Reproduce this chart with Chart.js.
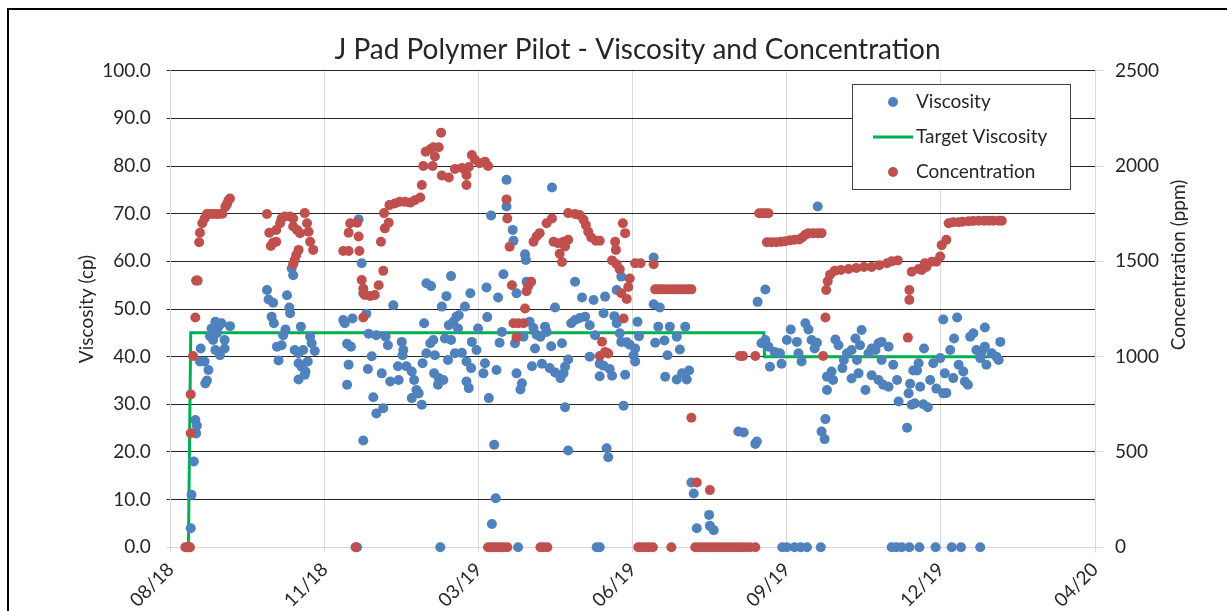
<!DOCTYPE html>
<html><head><meta charset="utf-8">
<script src="https://cdn.jsdelivr.net/npm/chart.js@4"></script>
<style>
html,body{margin:0;padding:0;background:#fff;overflow:hidden;width:1227px;height:611px}
#frame{position:absolute;left:7px;top:8px;border-left:2px solid #000;border-top:2px solid #000;width:1300px;height:700px}
#c{position:absolute;left:0;top:0}
</style></head><body>
<div id="frame"><canvas id="c" width="1257" height="601"></canvas></div>
<script>
// Day offsets are counted from 2018-08-13 (first axis tick); tick every 100 days.
const xTickLabels = ['08/18','11/18','03/19','06/19','09/19','12/19','04/20'];
const xTickStepDays = 100;

// [day offset, viscosity cp]
const viscosityPoints = [
[13,4.0],[13.5,11.0],[15,18.0],[16,26.7],[17,25.5],[16.5,23.9],[19.5,41.7],[19,39.0],[22,39.0],[24.5,37.2],[23.5,35.0],[22.5,34.4],[29,47.3],[26.5,45.9],[25.5,44.3],[27.5,43.5],[31,46.3],[33,47.0],[38.5,46.4],[35,43.5],[35,41.7],[32,40.3],[29,41.4],[30,44.9],
[62.5,54.0],[63.5,52.0],[65.5,48.4],[66.5,51.3],[67,47.0],[69,42.1],[70,39.2],[72,42.4],[73,44.5],[74.5,45.7],[75.5,52.9],[77,50.3],[77.5,49.1],[78.5,58.5],[79.5,57.1],[80.5,41.4],[83,40.7],[83,38.6],[83,35.2],[84.5,46.3],[85,37.9],[86,41.4],[87,36.2],[87.5,36.9],[89,39.0],[90.5,44.2],[91.5,42.8],[93.5,41.2],
[112,47.7],[113,47.0],[114.5,42.7],[114.5,34.1],[115.5,38.3],[117,42.1],[118,48.0],[121,0],[122,68.8],[124,59.6],[125,53.3],[125,22.4],[127,49.0],[128,37.4],[128.5,44.8],[130.5,40.1],[131.5,31.5],[133.5,44.5],[133.5,28.1],[137,36.5],[138,29.2],[139.5,44.2],[141,42.4],[142.5,34.8],[144.5,50.8],[147.5,38.0],[148,35.1],[150,43.1],[150.5,40.3],[151,41.4],[153,38.0],[156.5,36.9],[156.5,31.3],[158,35.1],[159.5,33.0],[161,32.3],[163,29.9],[163.5,38.6],[164.5,47.0],[166,40.7],[166,55.4],[168.5,42.8],[169,54.8],[170.5,43.5],[171,36.5],[171.5,40.3],[173.5,34.1],[174,35.5],[175,0],[176,50.5],[177,35.1],[178,43.8],[179,52.7],[180,39.3],[180.5,46.6],[182,56.9],[182,43.5],[183.5,47.3],[184.5,40.7],[185.5,48.4],[186.5,45.9],[187,48.7],[189,40.8],[191,50.5],[192,39.0],[192,34.8],[193.5,33.4],[194.5,53.3],[195,37.6],[195.5,43.1],
[198.5,41.4],[199.5,45.9],[203,36.5],[204,38.6],[205,54.5],[205.5,48.3],[206.5,31.3],[208,69.6],[208.5,4.9],[210,21.5],[211,10.3],[211.5,37.2],[212.5,52.4],[213.5,42.9],[215,45.2],[216,57.3],[218,77.1],[218,71.5],[222,66.6],[222.5,64.3],[223.5,42.8],[224.5,53.3],[224.5,36.5],[225.5,0],[227,33.1],[228,34.4],[229,44.2],[230,61.5],[230.5,60.3],[231,55.7],[233,47.3],[234.5,38.0],[235.5,46.0],[236.5,41.7],[237.5,44.6],[240,44.2],[241,38.5],[243,46.3],[244,45.2],[246,37.6],[247,42.2],[247.5,75.5],[249.5,50.3],[249.5,36.7],[253,35.5],[254,42.8],[255,36.5],[256,37.9],[256,29.4],[258,39.4],[258,20.3],[260,47.0],[262.5,47.7],[262.5,55.7],[265.5,48.1],[267,52.4],[269,48.4],[272,46.6],[272,40.0],[274.5,51.9],[275.5,44.5],[276.5,0],[278.5,0],[278.5,38.5],[278.5,35.9],[281,49.1],[281,38.1],[282,52.6],[283,20.8],[284,18.9],[285,37.4],[286.5,36.0],[288,48.5],[289.5,54.0],[291.5,44.9],[292.5,56.8],[292.5,43.1],[294,29.7],[295,36.2],
[289.5,47.0],[296,43.0],[298,42.5],[300.5,40.3],[301.5,41.7],[301.5,39.0],[303,47.3],[304,44.3],[313.5,60.8],[313.5,51.0],[314.5,42.9],[316.5,46.3],[317.5,50.3],[320.5,43.4],[321,35.8],[322.5,40.3],[324,46.3],[328.5,44.2],[328.5,35.2],[330.5,41.5],[332,36.5],[334,46.3],[335,35.2],[336.5,37.1],[338,13.6],[339.5,11.3],[341.5,4.0],[349.5,6.8],[350,4.5],[352.5,3.6],[368.5,24.3],[372,24.1],[379.5,21.7],[380.5,22.2],[381,51.5],[383.5,42.8],[386,54.1],[386,43.5],[388,42.1],[389,37.9],
[392,41.0],[395.5,40.7],[396.5,38.5],[397,0],[400,43.5],[400,0],[402.5,45.7],[405,0],[406.5,43.1],[407.5,40.7],[409,0],[409.5,39.0],[412,47.0],[413,0],[414,45.7],[416,43.5],[418,41.7],[419.5,42.9],[420,71.5],[422,0],[422.5,24.3],[424.5,22.7],[425,26.9],[426,33.0],[426,35.8],[429,36.9],[430,35.1],[431.5,43.6],[433.5,42.4],[436,37.6],[437,39.3],[439,40.7],[442,41.4],[442,35.4],[444.5,43.8],[445.5,39.3],[446.5,36.5],[447.5,42.4],[448.5,45.6],[451,33.0],[453,40.7],[455,41.7],[455,36.1],[457.5,41.4],[459.5,42.8],[459.5,35.1],[461.5,39.3],[461.5,43.1],[462.5,34.1],[466,42.1],[466,33.7],[468,0],[469,38.3],[471,0],[471.5,35.1],[472.5,30.6],[474.5,0],[478,25.1],[479,32.3],[479.5,0],[480,34.3],[481,29.9],[482,37.1],[484.5,37.1],[485.5,38.6],[486,0],[486.5,33.7],[488.5,30.0],[489,41.7],
[483,30.2],[491.5,29.4],[493,35.1],[495,38.6],[496.5,0],[497,33.3],[499.5,39.7],[501.5,47.8],[501.5,32.3],[502.5,36.5],[503.5,32.4],[506,41.4],[507,0],[508,35.5],[508.5,43.8],[510.5,48.2],[511.5,38.3],[513,0],[514.5,36.9],[515.5,34.8],[517.5,34.1],[519,44.2],[521,44.9],[523,41.4],[525.5,39.7],[525.5,0],[526.5,41.1],[528.5,46.1],[528.5,42.1],[529.5,38.3],[533,40.7],[536,40.0],[537.5,39.3],[538.5,43.1]
];

// [day offset, target viscosity cp]
const targetPoints = [[11.5,0],[13,45],[385,45],[385.5,40],[538,40]];

// [day offset, concentration ppm]
const concentrationPoints = [
[9.5,0],[10.5,0],[11.5,0],[12.5,0],[13,598],[13,802],[14.5,1003],[16,1205],[16.5,1399],[17.5,1399],[18.5,1600],[19,1650],[20.5,1700],[22,1725],[23.5,1748],[25.5,1748],[27.5,1748],[29.5,1748],[31.5,1748],[33.5,1750],[35.5,1787],[36.5,1800],[37.5,1820],[38.5,1830],
[62.5,1748],[64,1650],[65,1580],[66.5,1598],[68.5,1603],[68.5,1664],[71,1700],[72,1725],[74,1735],[77.5,1735],[79.5,1725],[79.5,1683],[79.5,1485],[80.5,1507],[81.5,1533],[82,1665],[83,1560],[84,1648],[87,1753],[88.5,1700],[89.5,1655],[90.5,1603],[92.5,1560],
[112,1554],[115.5,1554],[115.5,1650],[116.5,1700],[120,0],[121,1703],[122,1630],[122.5,1554],[124,1402],[125,1357],[125,1205],[126,1323],[129.5,1318],[132.5,1323],[135,1375],[136.5,1603],[138,1450],[138.5,1753],[139,1673],[141.5,1703],[142,1795],[145.5,1803],[148.5,1812],[152,1812],[155.5,1808],[158.5,1820],[162,1835],[163,1900],[164,2000],[165.5,2075],[168.5,2088],[170,2000],[170.5,2098],[171.5,2050],[174,2098],[175.5,2175],[176,1950],[180.5,1940],[184.5,1985],[189,1990],[192,1900],[192,1953],[193.5,1995],[195.5,2058],
[197.5,2033],[200.5,2015],[204,2023],[206,2000],[206,0],[208,0],[210,0],[212,0],[214,0],[216,0],[218.5,0],[218,1825],[218.5,1725],[220,1577],[221.5,1375],[222.5,1175],[224.5,1101],[225.5,1175],[229,1175],[230,1253],[231,1343],[232,1368],[234,1393],[235.5,1603],[237.5,1630],[239.5,1648],[240,0],[242,0],[244.5,0],[244,1700],[247.5,1725],[248.5,1603],[251.5,1595],[252.5,1540],[254,1497],[255,1603],[256,1578],[258,1613],[258,1753],[262.5,1748],[265.5,1743],[268,1718],[269.5,1690],[271,1655],[273,1625],[276,1608],[278.5,1608],[278.5,1003],[280,1078],[282,1025],[284,1017],[286.5,1505],[288.5,1603],[289,1560],[289.5,1485],[291.5,1458],[292.5,1333],[293.5,1700],[294,1200],[295,1648],
[296,1303],[297,1365],[298,1410],[301.5,1490],[303.5,0],[305,1490],[305.5,0],[308,0],[310.5,0],[313,0],[313.5,1485],[314.5,1353],[316.5,1353],[318.5,1353],[321,1353],[323.5,1353],[325,0],[326,1353],[328.5,1353],[331,1353],[333.5,1353],[336,1353],[338,1353],[338,680],[340.5,0],[341.5,340],[343,0],[345.5,0],[348,0],[350,300],[350.5,0],[353,0],[355.5,0],[358,0],[360.5,0],[363,0],[365.5,0],[368,0],[369.5,1003],[370.5,0],[371.5,1003],[373,0],[376,0],[379.5,1003],[379.5,0],[382,1752],[384,1752],[386,1752],[388,1752],
[387,1600],[390,1600],[393,1600],[396,1603],[399,1605],[402,1610],[405,1613],[408,1615],[410,1625],[412,1640],[414,1648],[417,1648],[420,1648],[422.5,1648],[423.5,1003],[425,1205],[425.5,1350],[426.5,1395],[428,1430],[431,1450],[435,1455],[440,1460],[445,1465],[450,1470],[455,1470],[460,1480],[465,1490],[468,1500],[472,1505],[478.5,1100],[479.5,1350],[479.5,1298],[481,1445],[485.5,1460],[487.5,1455],[489.5,1490],[490.5,1470],[494,1498],[497,1498],[499.5,1525],[500.5,1585],[503.5,1613],[505,1700],[508,1705],[511.5,1705],[514,1708],[518,1710],[521,1712],[524.5,1713],[528,1713],[531,1713],[534,1713],[537.5,1713],[539.5,1713]
];

const yLeftTickStep = 10;
const yRightTickStep = 500;

const toXY = arr => arr.map(p => ({x: p[0], y: p[1]}));
const TXT = '#262626';
Chart.defaults.font.family = 'Lato';
Chart.defaults.color = TXT;

const overlay = {
  id: 'overlay',
  afterDraw(chart) {
    const ctx = chart.ctx;
    const ds = chart.data.datasets;
    ctx.save();
    // legend box
    ctx.fillStyle = '#fff';
    ctx.fillRect(843, 74, 218, 105);
    ctx.strokeStyle = '#404040';
    ctx.lineWidth = 1;
    ctx.strokeRect(843.5, 74.5, 218, 105);
    ctx.font = '19px Lato';
    ctx.textBaseline = 'middle';
    ctx.textAlign = 'left';
    const rows = [92, 127, 162];
    ctx.fillStyle = ds[0].backgroundColor;
    ctx.beginPath(); ctx.arc(884, rows[0], 5, 0, Math.PI*2); ctx.fill();
    ctx.strokeStyle = ds[1].borderColor; ctx.lineWidth = 3;
    ctx.beginPath(); ctx.moveTo(864, rows[1]); ctx.lineTo(904, rows[1]); ctx.stroke();
    ctx.fillStyle = ds[2].backgroundColor;
    ctx.beginPath(); ctx.arc(884, rows[2], 5, 0, Math.PI*2); ctx.fill();
    ctx.fillStyle = TXT;
    ctx.fillText(ds[0].label, 907, rows[0]);
    ctx.fillText(ds[1].label, 907, rows[1]);
    ctx.fillText(ds[2].label, 907, rows[2]);
    // right axis title
    ctx.translate(1170, 255);
    ctx.rotate(-Math.PI/2);
    ctx.textAlign = 'center';
    ctx.fillText('Concentration (ppm)', 0, 0);
    ctx.restore();
  }
};

new Chart(document.getElementById('c'), {
  type: 'scatter',
  data: {
    datasets: [
      { label: 'Viscosity', data: toXY(viscosityPoints), yAxisID: 'y',
        backgroundColor: '#4F81BD', borderColor: '#4F81BD', pointRadius: 5, pointBorderWidth: 0,
        pointHoverRadius: 5, order: 2, clip: false },
      { label: 'Target Viscosity', type: 'line', data: toXY(targetPoints), yAxisID: 'y',
        borderColor: '#00B050', backgroundColor: '#00B050', borderWidth: 3, pointRadius: 0,
        showLine: true, fill: false, tension: 0, order: 3, clip: false },
      { label: 'Concentration', data: toXY(concentrationPoints), yAxisID: 'y2',
        backgroundColor: '#C0504D', borderColor: '#C0504D', pointRadius: 5, pointBorderWidth: 0,
        pointHoverRadius: 5, order: 1, clip: false }
    ]
  },
  options: {
    responsive: false,
    animation: false,
    events: [],
    layout: { padding: { left: 0, right: 0, top: 0, bottom: 0 } },
    plugins: {
      legend: { display: false },
      tooltip: { enabled: false },
      title: { display: true, text: 'J Pad Polymer Pilot - Viscosity and Concentration',
        font: { size: 28, weight: 'normal' }, color: TXT, padding: { top: 23, bottom: 4.1 } }
    },
    scales: {
      x: { type: 'linear', min: 0, max: xTickStepDays * (xTickLabels.length - 1),
        ticks: { stepSize: xTickStepDays, autoSkip: false, maxRotation: 45, minRotation: 45,
          padding: 6, font: { size: 19 }, color: TXT,
          callback: v => xTickLabels[Math.round(v / xTickStepDays)] },
        grid: { color: '#d9d9d9', tickLength: 5 },
        border: { color: '#d9d9d9' },
        afterFit: s => { s.height = 63.7; } },
      y: { position: 'left', min: 0, max: 100,
        ticks: { stepSize: yLeftTickStep, padding: 16, font: { size: 19 }, color: TXT,
          callback: v => v.toFixed(1) },
        grid: { color: c => (c.tick && c.tick.value === 0) ? '#d9d9d9' : '#262626', tickLength: 4 },
        border: { color: '#d9d9d9' },
        title: { display: true, text: 'Viscosity (cp)', font: { size: 19 }, color: TXT, padding: { top: 66.6, bottom: 4 } },
        afterFit: s => { s.width = 161.7; } },
      y2: { position: 'right', min: 0, max: 2500,
        ticks: { stepSize: yRightTickStep, padding: 12, font: { size: 19 }, color: TXT,
          callback: v => String(v) },
        grid: { drawOnChartArea: false, color: '#d9d9d9', tickLength: 8 },
        border: { color: '#d9d9d9' },
        afterFit: s => { s.width = 171; } }
    }
  },
  plugins: [overlay]
});
</script>
</body></html>
